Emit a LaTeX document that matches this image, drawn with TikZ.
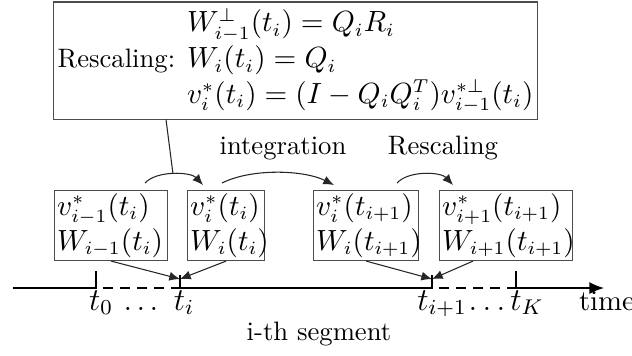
\documentclass[tikz,border=0pt]{standalone}
\usetikzlibrary{arrows.meta,calc}
\begin{document}
\begin{tikzpicture}[x=0.375pt,y=-0.375pt,
  box/.style={draw=black!70, line width=0.4pt, inner xsep=1pt, inner ysep=0pt, align=left, anchor=north west,
    minimum height=26.25pt, font=\fontsize{10.5}{13.2}\selectfont},
  conn/.style={draw=black!85, line width=0.4pt, -{Latex[length=4pt,width=3.4pt]}},
  plainline/.style={draw=black!85, line width=0.4pt},
  axisline/.style={line width=0.6pt},
  dashseg/.style={line width=0.6pt, dash pattern=on 3.8pt off 2.6pt, dash phase=3.8pt},
  lbl/.style={inner sep=0pt, anchor=base},
  mlbl/.style={inner sep=0pt, anchor=base, font=\fontsize{12}{14}\selectfont}]
\useasboundingbox (0,0) rectangle (632,355);
% top box
\node[draw=black!70, line width=0.4pt, minimum width=181.5pt, minimum height=43.9pt, inner sep=0pt] (top) at (295.5,60.5)
  {Rescaling: {\fontsize{10.6}{13.4}\selectfont$\begin{array}{@{}l@{}} W_{i-1}^{\perp}(t_i)=Q_iR_i\\ W_i(t_i)=Q_i\\ v_i^*(t_i)=(I-Q_iQ_i^T)v_{i-1}^{*\perp}(t_i)\end{array}$}};
% lower boxes
\node[box, text width=40.4pt] (b1) at (54,190) {$v_{i-1}^*(t_i)$\\$W_{i-1}(t_i)$};
\node[box, text width=26.9pt] (b2) at (187,190) {$v_i^*(t_i)$\\$W_i(t_i)$};
\node[box, text width=37.4pt] (b3) at (313,190) {$v_i^*(t_{i+1})$\\$W_i(t_{i+1})$};
\node[box, text width=47.9pt] (b4) at (439,190) {$v_{i+1}^*(t_{i+1})$\\$W_{i+1}(t_{i+1})$};
% labels
\node[lbl] (integ) at (283,154) {integration};
\node[lbl] (resc) at (443,154) {Rescaling};
% arcs
\coordinate (s1) at (145,183); \coordinate (e1) at (203,185);
\coordinate (s2) at (222,183); \coordinate (e2) at (334,185);
\coordinate (s3) at (397,183); \coordinate (e3) at (453,185);
\draw[conn] (s1) .. controls +(12,-13) and +(-12,-13) .. (e1);
\draw[conn] (s2) .. controls +(30,-15) and +(-30,-15) .. (e2);
\draw[conn] (s3) .. controls +(12,-13) and +(-12,-13) .. (e3);
% line from top box
\coordinate (ls) at (166,119.5); \coordinate (le) at (173,174);
\draw[plainline] (ls) -- (le);
% axis
\coordinate (a0) at (13,288); \coordinate (k0) at (96,288);
\coordinate (ki) at (180,288); \coordinate (ki1) at (432,288);
\coordinate (kK) at (516,288); \coordinate (aend) at (604,288);
\coordinate (ti) at (180,279); \coordinate (ti1) at (432,279);
\draw[axisline] (a0) -- (k0) -- ++(0,-17);
\draw[dashseg] (k0) -- (ki);
\draw[axisline] ($(ki)+(0,-13)$) -- (ki) -- (ki1) -- ++(0,-13);
\draw[dashseg] (ki1) -- (kK);
\draw[axisline, -{Latex[length=5.5pt,width=4.5pt]}] ($(kK)+(0,-17)$) -- (kK) -- (aend);
% arrows to ticks
\draw[conn] (b1.south) -- (ti);
\draw[conn] (b2.south) -- (ti);
\draw[conn] (b3.south) -- (ti1);
\draw[conn] ($(b4.south west)+(34,0)$) -- (ti1);
% time labels
\node[mlbl] (t0) at (101,310) {$t_0$};
\node[mlbl, font=\fontsize{11}{13}\selectfont] (d1) at (141,310) {$\ldots$};
\node[mlbl] (tI) at (184,310) {$t_i$};
\node[mlbl] (tI1) at (442,310) {$t_{i+1}$};
\node[mlbl, font=\fontsize{11.5}{13}\selectfont] (d2) at (487,310) {$\ldots$};
\node[mlbl] (tK) at (527,310) {$t_K$};
\node[lbl, font=\fontsize{10.8}{13}\selectfont] (time) at (607,310) {time};
\node[lbl] (seg) at (319,340) {i-th segment};
\end{tikzpicture}
\end{document}
